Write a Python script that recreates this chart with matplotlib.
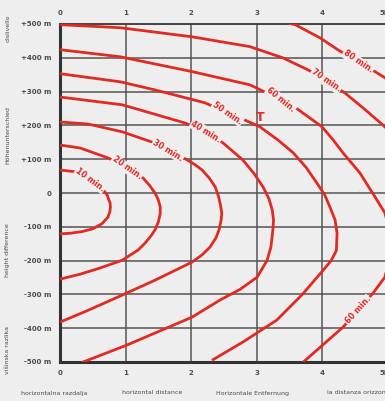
import matplotlib
matplotlib.use('Agg')
import matplotlib.pyplot as plt

# walking-time isochrones: horizontal distance (km) vs height difference (m)
t10_x = [0.00, 0.27, 0.46, 0.66, 0.72, 0.745, 0.765, 0.77, 0.76, 0.73, 0.64, 0.50, 0.34, 0.16, 0.00]
t10_h = [68, 62, 39, 9, -6, 0 - 20, -30, -42, -56, -72, -91, -106, -114, -119, -121]

t20_x = [0.00, 0.31, 0.73, 0.99, 1.27, 1.37, 1.45, 1.50, 1.53, 1.53, 1.50, 1.46, 1.40, 1.30, 1.19, 0.95, 0.61, 0.31, 0.00]
t20_h = [142, 133, 104, 80, 44, 22, 0, -20, -41, -62, -86, -106, -124, -148, -169, -199, -222, -240, -255]

t30_x = [0.00, 0.43, 0.95, 1.40, 1.65, 1.94, 2.06, 2.17, 2.28, 2.37, 2.42, 2.45, 2.47, 2.46, 2.43, 2.38, 2.29, 2.17, 2.02,
         1.45, 0.95, 0.43, 0.00]
t30_h = [210, 204, 181, 151, 127, 98, 84, 68, 44, 18, -10, -36, -60, -80, -108, -133, -160, -183, -204,
         -258, -302, -347, -382]

t40_x = [0.00, 0.95, 1.91, 2.23, 2.49, 2.79, 2.96, 3.10, 3.19, 3.24, 3.26, 3.25, 3.22, 3.16, 3.01, 2.75, 2.44, 2.02,
         1.02, 0.34]
t40_h = [284, 261, 207, 181, 148, 98, 58, 18, -17, -50, -80, -110, -160, -200, -249, -285, -317, -367,
         -450, -501]

t50_x = [0.00, 0.92, 1.45, 2.21, 2.56, 2.82, 3.05, 3.32, 3.56, 3.76, 3.92, 4.04, 4.12, 4.20, 4.23, 4.22, 4.14, 4.02,
         3.70, 3.31, 2.80, 2.32]
t50_h = [353, 329, 305, 267, 237, 216, 196, 158, 119, 75, 30, -5, -41, -80, -119, -170, -200, -228,
         -300, -376, -440, -495]

t60_x = [0.00, 0.92, 2.02, 2.90, 3.37, 3.62, 4.00, 4.17, 4.32, 4.58, 4.84, 4.96, 5.08, 4.96, 4.78, 4.55, 4.32, 3.71]
t60_h = [424, 403, 359, 320, 276, 249, 196, 157, 119, 59, -21, -59, -155, -249, -296, -347, -397, -501]

t70_x = [0.00, 0.92, 2.02, 2.90, 3.40, 3.79, 4.06, 4.35, 4.65, 4.96, 5.19]
t70_h = [498, 489, 462, 433, 400, 364, 332, 296, 248, 196, 142]

t80_x = [3.05, 3.59, 3.97, 4.24, 4.55, 4.81, 4.96, 5.11]
t80_h = [522, 498, 459, 424, 388, 359, 341, 320]

curves = [(t10_x, t10_h), (t20_x, t20_h), (t30_x, t30_h), (t40_x, t40_h),
          (t50_x, t50_h), (t60_x, t60_h), (t70_x, t70_h), (t80_x, t80_h)]

# curve labels: text, x, h, rotation
label_text = ['10 min.', '20 min.', '30 min.', '40 min.', '50 min.', '60 min.', '70 min.', '80 min.', '60 min.']
label_x = [0.46, 1.02, 1.65, 2.23, 2.56, 3.37, 4.06, 4.55, 4.55]
label_h = [39, 74, 127, 181, 237, 276, 332, 388, -347]
label_rot = [-36, -35, -31, -32, -34, -39, -34, -34, 48]

x_ticks = [0, 1, 2, 3, 4, 5]
x_tick_labels = ['0', '1', '2', '3', '4', '5km']
y_ticks = [500, 400, 300, 200, 100, 0, -100, -200, -300, -400, -500]
y_tick_labels = ['+500 m', '+400 m', '+300 m', '+200 m', '+100 m', '0',
                 '-100 m', '-200 m', '-300 m', '-400 m', '-500 m']

left_titles = ['dislivello', 'Höhenunterschied', 'height difference', 'višinska razlika']
bottom_titles = ['horizontalna razdalja', 'horizontal distance', 'Horizontale Entfernung',
                 'la distanza orizzontale']

BG = '#efeeee'
RED = '#e02b24'
GREY = '#4a4a4a'
FONT = ['Liberation Sans Narrow', 'DejaVu Sans']

W, H = 385, 401
fig = plt.figure(figsize=(W / 100, H / 100), dpi=100, facecolor=BG)
ax = fig.add_axes([60 / W, (H - 362) / H, 327.5 / W, 338 / H])
ax.set_facecolor(BG)
ax.set_xlim(0, 5)
ax.set_ylim(-500, 500)

for xv in x_ticks:
    ax.axvline(xv, color='#555555', lw=1.1, zorder=1)
for yv in y_ticks:
    ax.axhline(yv, color='#555555', lw=1.1, zorder=1)

for cx, ch in curves:
    ax.plot(cx, ch, color=RED, lw=2.0, solid_joinstyle='round', solid_capstyle='butt', zorder=3)

for t, lx, lh, r in zip(label_text, label_x, label_h, label_rot):
    ax.text(lx, lh, t, color=RED, fontsize=5.8, fontweight='bold', family=FONT,
            rotation=r, rotation_mode='anchor', ha='center', va='center', zorder=4,
            bbox=dict(facecolor=BG, edgecolor='none', pad=0.6))

ax.text(3.05, 223, 'T', color=RED, fontsize=9, fontweight='bold', family=FONT,
        ha='center', va='center', zorder=5)

for s in ['left', 'bottom']:
    ax.spines[s].set_linewidth(2.2)
    ax.spines[s].set_color('#333333')
ax.spines['top'].set_linewidth(1.4)
ax.spines['top'].set_color('#444444')
ax.spines['right'].set_visible(False)

ax.set_xticks(x_ticks)
ax.set_xticklabels(x_tick_labels)
ax.set_yticks(y_ticks)
ax.set_yticklabels(y_tick_labels)
ax.tick_params(axis='both', length=0, labelsize=5, colors=GREY)
ax.tick_params(axis='x', top=True, labeltop=True, pad=6)
ax.tick_params(axis='y', pad=6)
for lab in ax.get_xticklabels() + ax.get_yticklabels():
    lab.set_family(FONT)
    lab.set_fontweight('bold')

for t, py in zip(left_titles, [28, 135, 250, 350]):
    fig.text(8 / W, 1 - py / H, t, rotation=90, fontsize=4.5, color=GREY,
             family=FONT, ha='center', va='center')
for t, px in zip(bottom_titles, [54, 152, 252, 362]):
    fig.text(px / W, 1 - 393 / H, t, fontsize=4.5, color=GREY,
             family=FONT, ha='center', va='center')

fig.savefig('out.png', dpi=100, facecolor=BG)
